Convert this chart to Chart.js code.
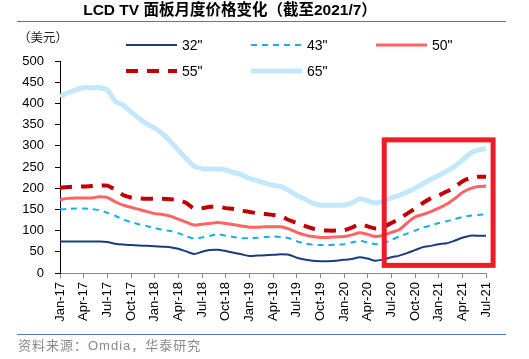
<!DOCTYPE html>
<html lang="zh">
<head>
<meta charset="utf-8">
<title>LCD TV 面板月度价格变化</title>
<script src="https://cdn.jsdelivr.net/npm/chart.js@4"></script>
<style>
  html, body { margin: 0; padding: 0; background: #fff; }
  #wrap { width: 529px; height: 359px; }
</style>
</head>
<body>
<div id="wrap"><canvas id="c" width="529" height="359"></canvas></div>
<script>
// months Jan-17 .. Jul-21
var months = [
  'Jan-17','Feb-17','Mar-17','Apr-17','May-17','Jun-17','Jul-17','Aug-17','Sep-17','Oct-17','Nov-17','Dec-17',
  'Jan-18','Feb-18','Mar-18','Apr-18','May-18','Jun-18','Jul-18','Aug-18','Sep-18','Oct-18','Nov-18','Dec-18',
  'Jan-19','Feb-19','Mar-19','Apr-19','May-19','Jun-19','Jul-19','Aug-19','Sep-19','Oct-19','Nov-19','Dec-19',
  'Jan-20','Feb-20','Mar-20','Apr-20','May-20','Jun-20','Jul-20','Aug-20','Sep-20','Oct-20','Nov-20','Dec-20',
  'Jan-21','Feb-21','Mar-21','Apr-21','May-21','Jun-21','Jul-21'
];

var p32 = [
  74,74,74,74,74,74,73,69,67,66,65,64,
  63,62,61,57,51,45,50,54,55,52,48,44,
  40,41,42,43,44,43,36,32,29,28,28,29,
  31,33,37,34,29,32,37,41,47,54,61,64,
  68,70,76,83,88,88,88
];
var p43 = [
  150,151,152,152,151,148,142,135,126,120,115,111,
  106,102,99,94,87,81,84,88,91,88,85,82,
  82,83,85,86,85,82,75,70,67,66,66,67,
  68,72,76,72,68,71,78,86,93,100,107,112,
  118,122,127,132,135,137,138
];
var p50 = [
  173,176,177,177,177,180,178,168,160,155,150,145,
  140,138,134,127,120,113,115,117,119,117,114,111,
  108,108,109,109,109,104,96,90,86,84,84,85,
  86,90,95,91,86,89,96,102,118,132,138,145,
  153,162,175,190,199,204,205
];
var p55 = [
  201,203,204,204,205,206,206,196,184,178,176,175,
  175,175,174,172,165,152,153,156,157,153,151,147,
  144,141,139,137,134,125,118,111,105,101,100,100,
  101,107,115,110,105,109,118,128,140,152,165,176,
  183,192,202,216,224,227,227
];
var p65 = [
  416,425,432,437,437,437,432,405,396,380,365,352,
  342,328,310,290,270,252,246,245,245,243,237,232,
  223,218,212,207,204,195,183,175,165,160,160,160,
  160,165,175,170,165,170,177,183,191,200,210,221,
  230,240,251,266,282,290,294
];

// highlighted window (month index / price)
var boxFrom = 41.1, boxTo = 54.9, boxTop = 314, boxBottom = 18;

var cjk = '"Liberation Sans", "Noto Sans CJK SC", sans-serif';

var decor = {
  id: 'decor',
  afterDatasetsDraw: function(chart) {
    var ctx = chart.ctx, x = chart.scales.x, y = chart.scales.y;
    ctx.save();
    ctx.strokeStyle = '#ee1c25';
    ctx.lineWidth = 5;
    var l = x.getPixelForValue(boxFrom), r = x.getPixelForValue(boxTo);
    var t = y.getPixelForValue(boxTop), b = y.getPixelForValue(boxBottom);
    ctx.strokeRect(l, t, r - l, b - t);
    ctx.restore();
  },
  afterDraw: function(chart) {
    var ctx = chart.ctx;
    ctx.save();
    // title
    ctx.fillStyle = '#000';
    ctx.font = 'bold 15.5px ' + cjk;
    ctx.textAlign = 'center';
    ctx.textBaseline = 'middle';
    ctx.fillText('LCD TV 面板月度价格变化（截至2021/7）', 230, 11);
    // rules
    ctx.strokeStyle = '#5779b3';
    ctx.lineWidth = 1;
    ctx.beginPath();
    ctx.moveTo(17, 21.5); ctx.lineTo(506, 21.5);
    ctx.moveTo(17, 334.5); ctx.lineTo(506, 334.5);
    ctx.stroke();
    // unit
    ctx.textAlign = 'left';
    ctx.font = '12.5px ' + cjk;
    ctx.fillStyle = '#222';
    ctx.fillText('（美元）', 18, 39);
    // source
    ctx.font = '13px ' + cjk;
    ctx.fillStyle = '#8a8a8a';
    ctx.letterSpacing = '1px';
    ctx.fillText('资料来源：Omdia，华泰研究', 18, 346);
    ctx.letterSpacing = '0px';
    // legend
    chart.data.datasets.forEach(function(ds, i) {
      var col = i % 3, row = Math.floor(i / 3);
      var x0 = 126 + col * 125, yy = 45 + row * 26;
      ctx.strokeStyle = ds.borderColor;
      ctx.lineWidth = ds.borderWidth;
      ctx.setLineDash(ds.borderDash || []);
      ctx.beginPath();
      ctx.moveTo(x0, yy); ctx.lineTo(x0 + 51, yy);
      ctx.stroke();
      ctx.setLineDash([]);
      ctx.fillStyle = '#000';
      ctx.font = '14px "Liberation Sans", sans-serif';
      ctx.fillText(ds.label, x0 + 56, yy + 1);
    });
    ctx.restore();
  }
};

function line(label, data, color, width, dash) {
  return {
    label: label, data: data, borderColor: color, borderWidth: width,
    borderDash: dash, pointRadius: 0, tension: 0.25, fill: false
  };
}

new Chart(document.getElementById('c'), {
  type: 'line',
  data: {
    labels: months,
    datasets: [
      line('32"', p32, '#1b3c7c', 2, []),
      line('43"', p43, '#14b0ee', 2, [6, 5]),
      line('50"', p50, '#ff6464', 3, []),
      line('55"', p55, '#c00000', 4, [12, 9]),
      line('65"', p65, '#c2e8fa', 5, [])
    ]
  },
  options: {
    responsive: false,
    animation: false,
    layout: { padding: { top: 61, right: 43, left: 0, bottom: 0 } },
    plugins: { legend: { display: false }, tooltip: { enabled: false } },
    scales: {
      x: {
        afterFit: function(s) { s.height = 86; },
        afterBuildTicks: function(s) {
          s.ticks = s.ticks.filter(function(t) { return t.value % 3 === 0; });
        },
        ticks: {
          autoSkip: false, maxRotation: 90, minRotation: 90, padding: 4,
          color: '#000', font: { family: 'Liberation Sans', size: 13 }
        },
        grid: { drawOnChartArea: false, tickLength: 5, color: '#888' },
        border: { color: '#888' }
      },
      y: {
        min: 0, max: 500,
        afterFit: function(s) { s.width = 60; },
        ticks: {
          stepSize: 50, padding: 11, color: '#000',
          font: { family: 'Liberation Sans', size: 13 }
        },
        grid: { drawOnChartArea: false, tickLength: 5, color: '#000' },
        border: { color: '#000' }
      }
    }
  },
  plugins: [decor]
});
</script>
</body>
</html>
